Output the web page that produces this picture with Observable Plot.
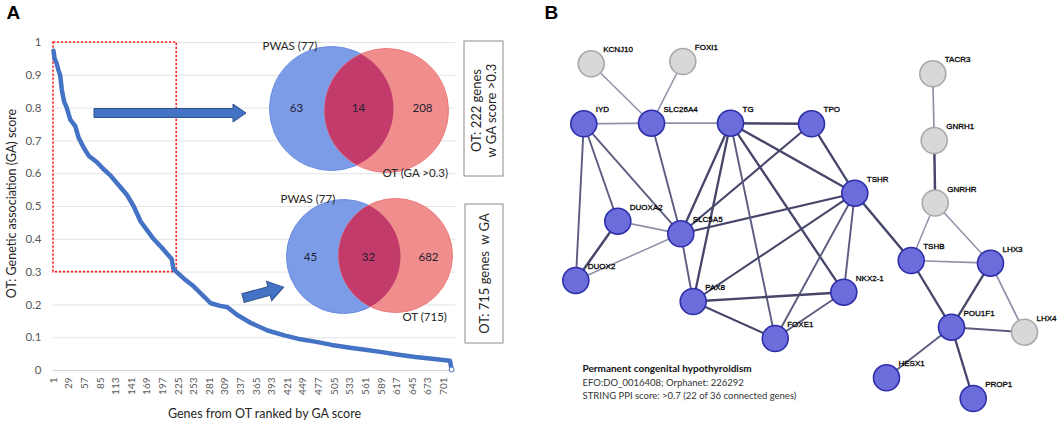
<!DOCTYPE html>
<html><head><meta charset="utf-8">
<script src="https://cdn.jsdelivr.net/npm/d3@7"></script>
<script src="https://cdn.jsdelivr.net/npm/@observablehq/plot@0.6"></script>
<style>
html,body{margin:0;padding:0;background:#fff;}
#fig{position:relative;width:1059px;height:421px;overflow:hidden;background:#fff;}
#fig > svg{position:absolute;left:0;top:0;}
</style></head><body><div id="fig"></div>
<script>
// ---------- DATA ----------
// Panel A: OT genes ranked by GA score
const gaRank  = [1,3,6,10,13,16,20,25,31,40,46,55,64,79,90,103,118,133,145,157,170,181,195,205,213,216,222,235,250,265,283,300,313,330,355,385,415,444,470,500,530,560,590,620,650,680,712,715];
const gaScore = [0.975,0.95,0.94,0.915,0.9,0.855,0.82,0.8,0.765,0.745,0.71,0.68,0.655,0.635,0.615,0.595,0.565,0.535,0.5,0.455,0.425,0.4,0.375,0.355,0.34,0.31,0.3,0.28,0.26,0.235,0.205,0.197,0.193,0.17,0.145,0.122,0.107,0.095,0.088,0.078,0.07,0.063,0.056,0.048,0.041,0.036,0.03,0.003];
const xTickLabels = [1,29,57,85,113,141,169,197,225,253,281,309,337,365,393,421,449,477,505,533,561,589,617,645,673,701];
const yTickLabels = [0,0.1,0.2,0.3,0.4,0.5,0.6,0.7,0.8,0.9,1];
const gaThreshold = 0.3;
const genesAboveThreshold = 222;
const yTitle = "OT: Genetic association (GA) score";
const xTitle = "Genes from OT ranked by GA score";

// Venn diagrams
const vennCountsTop = [63, 14, 208];
const vennCountsBottom = [45, 32, 682];
const vennSetLabels = ["PWAS (77)", "OT (GA >0.3)", "PWAS (77)", "OT (715)"];
const boxLabels = ["OT: 222 genes\nw GA score >0.3", "OT: 715 genes  w GA"];

// Panel B: STRING network
const genes = ["KCNJ10","FOXI1","IYD","SLC26A4","TG","TPO","TSHR","TACR3","GNRH1","GNRHR","DUOXA2","SLC5A5","DUOX2","PAX8","FOXE1","NKX2-1","TSHB","LHX3","POU1F1","LHX4","HESX1","PROP1"];
const geneQueried = [false,false,true,true,true,true,true,false,false,false,true,true,true,true,true,true,true,true,true,false,true,true];
const edgeSource = ["KCNJ10","FOXI1","IYD","SLC26A4","TG","IYD","IYD","IYD","SLC26A4","DUOXA2","DUOXA2","DUOX2","SLC5A5","SLC5A5","SLC5A5","SLC5A5","TG","TG","TG","TG","TPO","TSHR","TSHR","TSHR","TSHR","PAX8","PAX8","FOXE1","TACR3","GNRH1","GNRHR","GNRHR","TSHB","TSHB","LHX3","LHX3","POU1F1","POU1F1","POU1F1"];
const edgeTarget = ["SLC26A4","SLC26A4","SLC26A4","TG","TPO","DUOX2","DUOXA2","SLC5A5","SLC5A5","SLC5A5","DUOX2","SLC5A5","PAX8","TG","TPO","TSHR","PAX8","FOXE1","NKX2-1","TSHR","TSHR","PAX8","FOXE1","NKX2-1","TSHB","NKX2-1","FOXE1","NKX2-1","GNRH1","GNRHR","TSHB","LHX3","LHX3","POU1F1","POU1F1","LHX4","LHX4","HESX1","PROP1"];
const edgeScore  = [0.75,0.75,0.8,0.8,0.99,0.85,0.85,0.85,0.85,0.8,0.99,0.75,0.85,0.95,0.9,0.9,0.95,0.85,0.95,0.95,0.95,0.9,0.85,0.85,0.99,0.99,0.9,0.85,0.8,0.99,0.75,0.75,0.8,0.95,0.95,0.8,0.85,0.85,0.95];
const captionTitle = "Permanent congenital hypothyroidism";
const captionLines = ["EFO:DO_0016408; Orphanet: 226292","STRING PPI score: >0.7 (22 of 36 connected genes)"];

// ---------- LAYOUT (positions in figure pixels) ----------
const W = 1059, H = 421;
const nodeX = [590.7,682.3,583.3,651,730,811,854.3,932.3,933.7,934.7,617.3,680.3,575.3,692.7,774.7,843.3,910.7,990,951,1024,886,972.7];
const nodeY = [63.3,61,123.3,122.7,122.7,123.3,192.7,73.3,140,202.5,220.7,233.3,280,301,338,291.7,260,262.7,326.7,331.7,377.3,398];
const vennGeo = [
  {bx:331, by:108, rx:386, ry:110, r:62, counts:vennCountsTop,    cx:[296,358,422], cy:108},
  {bx:343, by:256, rx:395, ry:255, r:57, counts:vennCountsBottom, cx:[310,368,428], cy:257}
];
const setLabelPos = [[262,46],[382,173],[280,199],[402,317]];
const boxGeo = [[464,41,503,176,483,110],[465,204,503,343,483,273]];
const captionTitlePos = [582, 368.5];
const captionPos = [[582,382.5],[582,395.5]];

// ---------- PANEL A: line chart ----------
const fig = document.getElementById("fig");
const curve = gaRank.map((r, i) => ({rank: r, score: gaScore[i]}));

const main = Plot.plot({
  width: 530, height: H,
  marginLeft: 53, marginRight: 75, marginTop: 42, marginBottom: 51,
  style: {fontFamily: "Lato, 'Open Sans', sans-serif", background: "white", overflow: "visible"},
  x: {domain: [1, 722]},
  y: {domain: [0, 1]},
  marks: [
    Plot.ruleY(yTickLabels.filter(d => d > 0), {stroke: "#e4e4e4", strokeWidth: 1}),
    Plot.ruleY([0], {stroke: "#d2d2d2", strokeWidth: 1.2}),
    Plot.axisY(yTickLabels, {tickSize: 0, tickPadding: 12, fontSize: 11.5, color: "#595959", tickFormat: d => String(d), label: null}),
    Plot.axisX(xTickLabels, {tickSize: 0, tickPadding: 7, tickRotate: -90, fontSize: 10, color: "#595959", label: null}),
    Plot.rect([{x1: 1, x2: genesAboveThreshold, y1: gaThreshold, y2: 1}], {x1: "x1", x2: "x2", y1: "y1", y2: "y2", fill: "none", stroke: "#ff1f1f", strokeWidth: 1.6, strokeDasharray: "2.2,1.8"}),
    Plot.line(curve, {x: "rank", y: "score", stroke: "#4472c4", strokeWidth: 4.5, strokeLinejoin: "round", strokeLinecap: "round"}),
    Plot.dot([curve[curve.length - 1]], {x: "rank", y: "score", r: 2.5, stroke: "#4472c4", fill: "white", strokeWidth: 1}),
    Plot.text([yTitle], {text: d => d, frameAnchor: "left", textAnchor: "middle", lineAnchor: "middle", dx: -42, dy: -3, rotate: -90, fontSize: 12.5, fill: "#262626"}),
    Plot.text([xTitle], {text: d => d, frameAnchor: "bottom", textAnchor: "middle", lineAnchor: "middle", dy: 43, dx: 10, fontSize: 12.5, fill: "#262626"})
  ]
});
fig.appendChild(main);

// ---------- OVERLAY: venns, boxes, network ----------
const nodes = genes.map((g, i) => ({gene: g, x: nodeX[i], y: nodeY[i], queried: geneQueried[i]}));
const byGene = Object.fromEntries(nodes.map(n => [n.gene, n]));
const edges = edgeSource.map((s, i) => ({s: byGene[s], t: byGene[edgeTarget[i]], score: edgeScore[i]}));
const vennText = vennGeo.flatMap(v => v.counts.map((c, j) => ({x: v.cx[j], y: v.cy, t: String(c)})));
const setText = vennSetLabels.map((t, i) => ({t, x: setLabelPos[i][0], y: setLabelPos[i][1]}));
const boxes = boxGeo.map((b, i) => ({x1: b[0], y1: b[1], x2: b[2], y2: b[3], tx: b[4], ty: b[5], t: boxLabels[i]}));
const caption = captionLines.map((t, i) => ({t, x: captionPos[i][0], y: captionPos[i][1]}));

const overlay = Plot.plot({
  width: W, height: H, margin: 0,
  style: {background: "transparent", fontFamily: "Lato, 'Open Sans', sans-serif", overflow: "visible"},
  x: {domain: [0, W], range: [0, W], axis: null},
  y: {domain: [0, H], range: [0, H], axis: null},
  r: {type: "identity"},
  marks: [
    // venn circles (set A, set B, intersection)
    Plot.dot(vennGeo, {x: "bx", y: "by", r: "r", fill: "#7d9ce8", stroke: "#6a8ce0", strokeWidth: 1, sort: null}),
    Plot.dot(vennGeo, {x: "rx", y: "ry", r: "r", fill: "#f08d8d", stroke: "#ee7b7b", strokeWidth: 1, sort: null}),
    Plot.dot(vennGeo, {x: "rx", y: "ry", r: "r", fill: "#c23b6b", sort: null}),
    Plot.text(vennText, {x: "x", y: "y", text: "t", fontSize: 11.5, fill: "#1f1f2f"}),
    Plot.text(setText, {x: "x", y: "y", text: "t", textAnchor: "start", fontSize: 11.5, fill: "#262626"}),
    // boxes
    Plot.rect(boxes, {x1: "x1", x2: "x2", y1: "y1", y2: "y2", fill: "white", stroke: "#8c8c8c", strokeWidth: 1}),
    Plot.text(boxes, {x: "tx", y: "ty", text: "t", rotate: -90, fontSize: 13, lineHeight: 1.2, fill: "#262626"}),
    // network
    Plot.link(edges, {x1: d => d.s.x, y1: d => d.s.y, x2: d => d.t.x, y2: d => d.t.y,
      stroke: d => d.score >= 0.9 ? "#46466a" : (d.score >= 0.85 ? "#5c5c80" : "#9090aa"),
      strokeWidth: d => 1.3 + (d.score - 0.7) * 4}),
    Plot.dot(nodes, {x: "x", y: "y", r: 13,
      fill: d => d.queried ? "#6c6cdb" : "#d8d8d8",
      stroke: d => d.queried ? "#2e2eab" : "#a9a9a9", strokeWidth: 1.6}),
    Plot.text(nodes, {x: "x", y: "y", text: "gene", dx: 12, dy: -14, textAnchor: "start", fontSize: 8,
      fontFamily: "'Liberation Sans', Arial, sans-serif", fill: "#000", stroke: "#000", strokeWidth: 0.3}),
    Plot.text([captionTitle], {x: () => captionTitlePos[0], y: () => captionTitlePos[1], text: d => d, textAnchor: "start",
      fontSize: 10, fontWeight: "bold", fill: "#111"}),
    Plot.text(caption, {x: "x", y: "y", text: "t", textAnchor: "start", fontSize: 9.5, fill: "#333"}),
    // panel letters
    Plot.text([{t: "A", x: 6, y: 12}, {t: "B", x: 544, y: 12}], {x: "x", y: "y", text: "t", textAnchor: "start",
      fontSize: 19, fontWeight: "bold", fontFamily: "'Liberation Sans', Arial, sans-serif", fill: "#000"})
  ]
});
fig.appendChild(overlay);

// clip each intersection circle to the first circle of its pair
const osvg = d3.select(overlay);
const defs = osvg.insert("defs", ":first-child");
const dotGroups = osvg.selectAll('g[aria-label="dot"]').nodes();
const aCircles = d3.select(dotGroups[0]).selectAll("circle").nodes();
d3.select(dotGroups[2]).selectAll("circle").each(function(_, i) {
  const a = aCircles[i];
  if (!a) return;
  const id = "lens-clip-" + i;
  const cp = defs.append("clipPath").attr("id", id);
  cp.node().appendChild(a.cloneNode(true));
  d3.select(this).attr("clip-path", `url(#${id})`);
});

// block arrows (annotations)
const arrowG = osvg.append("g").attr("fill", "#4472c4").attr("stroke", "#2f528f").attr("stroke-width", 1);
arrowG.append("path").attr("d", "M94,108.5H233V104L246,113L233,122V117.5H94Z");
arrowG.append("path").attr("transform", "translate(243,298) rotate(-15)")
  .attr("d", "M0,-4.5H27V-10L42,0L27,10V4.5H0Z");
</script></body></html>
